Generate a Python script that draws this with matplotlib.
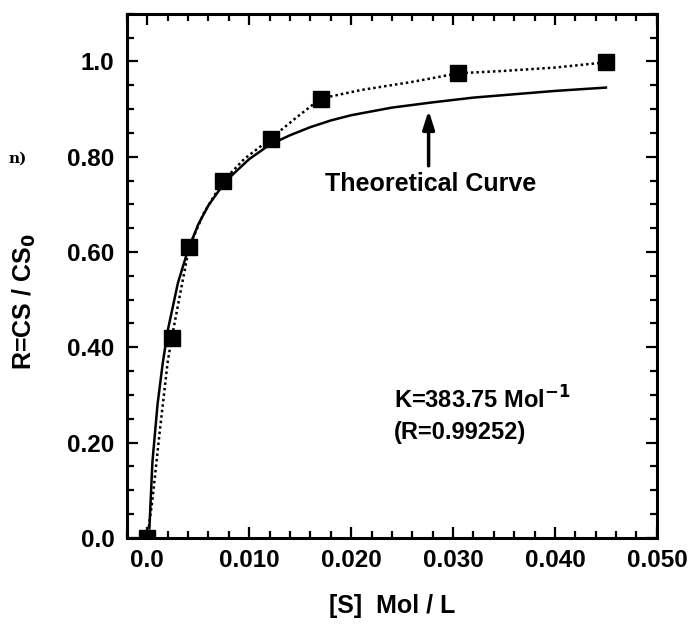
import matplotlib
matplotlib.use("Agg")
import matplotlib.pyplot as plt
from matplotlib.ticker import MultipleLocator

plt.rcParams['font.family'] = ['Liberation Sans', 'DejaVu Sans']
plt.rcParams['font.weight'] = 'bold'

# measured points
s_conc = [0.0, 0.0024, 0.0041, 0.0074, 0.0121, 0.0170, 0.0305, 0.0450]
ratio = [0.0, 0.42, 0.61, 0.748, 0.838, 0.922, 0.975, 0.998]

# dotted curve through the data
dot_x = [0.0, 0.0005, 0.0012, 0.0020, 0.0024, 0.0032, 0.0041, 0.0055, 0.0074,
         0.0095, 0.0121, 0.0145, 0.0170, 0.0210, 0.0260, 0.0305, 0.0350, 0.0400, 0.0450]
dot_y = [0.0, 0.08, 0.22, 0.37, 0.42, 0.51, 0.61, 0.68, 0.748,
         0.795, 0.838, 0.88, 0.922, 0.940, 0.957, 0.975, 0.980, 0.987, 0.998]

# theoretical curve
theo_x = [0.0002, 0.0005, 0.0010, 0.0015, 0.0020, 0.0030, 0.0040, 0.0050, 0.0060,
          0.0070, 0.0080, 0.0100, 0.0120, 0.0140, 0.0160, 0.0180, 0.0200, 0.0240,
          0.0280, 0.0320, 0.0360, 0.0400, 0.0450]
theo_y = [0.02, 0.16, 0.28, 0.365, 0.435, 0.535, 0.605, 0.658, 0.698,
          0.728, 0.755, 0.795, 0.825, 0.845, 0.862, 0.876, 0.887, 0.903,
          0.914, 0.924, 0.931, 0.938, 0.945]

x_ticks = [0.0, 0.01, 0.02, 0.03, 0.04, 0.05]
x_labels = ['0.0', '0.010', '0.020', '0.030', '0.040', '0.050']
y_ticks = [0.0, 0.2, 0.4, 0.6, 0.8, 1.0]
y_labels = ['0.0', '0.20', '0.40', '0.60', '0.80', '1.0']

fig = plt.figure(figsize=(6.9, 6.24), dpi=100)
ax = fig.add_axes([0.184, 0.138, 0.768, 0.84])

ax.plot(theo_x, theo_y, color='black', linewidth=1.8, zorder=2)
ax.plot(dot_x, dot_y, color='black', linewidth=1.8, linestyle=(0, (1, 1.2)), zorder=2)
ax.plot(s_conc, ratio, linestyle='none', marker='s', markersize=12,
        color='black', zorder=3)

ax.set_xlim(-0.002, 0.050)
ax.set_ylim(0.0, 1.1)
ax.set_xticks(x_ticks, x_labels)
ax.set_yticks(y_ticks, y_labels)
ax.xaxis.set_minor_locator(MultipleLocator(0.002))
ax.yaxis.set_minor_locator(MultipleLocator(0.05))
ax.tick_params(which='both', direction='in', top=True, right=True,
               labelsize=17.5, width=1.6)
ax.tick_params(axis='y', pad=9)
ax.tick_params(axis='x', pad=8)
ax.tick_params(which='major', length=8)
ax.tick_params(which='minor', length=5)
for sp in ax.spines.values():
    sp.set_linewidth(2.2)

ax.set_xlabel('[S]  Mol / L', fontsize=18, fontweight='bold', labelpad=16)
ax.set_ylabel('R=CS / CS$_\\mathbf{0}$', fontsize=18, fontweight='bold')
ax.yaxis.set_label_coords(-0.168, 0.45)

ax.annotate('', xy=(0.0276, 0.903), xytext=(0.0276, 0.775),
            arrowprops=dict(arrowstyle='-|>,head_length=1.1,head_width=0.35',
                            color='black', lw=2.5))
ax.text(0.0278, 0.743, 'Theoretical Curve', fontsize=18, fontweight='bold',
        ha='center', va='center')
ax.text(0.0242, 0.289, 'K=383.75 Mol$^{\\mathbf{-1}}$', fontsize=17,
        fontweight='bold', ha='left', va='center')
ax.text(0.0242, 0.222, '(R=0.99252)', fontsize=17, fontweight='bold',
        ha='left', va='center')

fig.text(0.012, 0.745, 'n)', fontsize=11, fontweight='bold', family='DejaVu Serif',
         ha='left', va='center')

fig.savefig('out.png', dpi=100)
